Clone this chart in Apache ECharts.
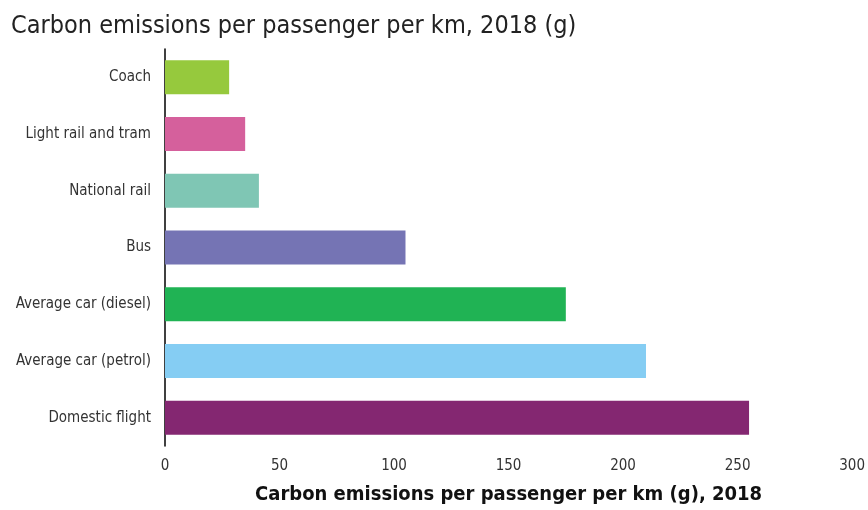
<!DOCTYPE html>
<html>
<head>
<meta charset="utf-8">
<script src="https://cdn.jsdelivr.net/npm/echarts@6/dist/echarts.min.js"></script>
<style>
html,body{margin:0;padding:0;background:#fff;}
#chart{width:868px;height:510px;}
</style>
</head>
<body>
<div id="chart"></div>
<script>
const categories = ["Coach", "Light rail and tram", "National rail", "Bus", "Average car (diesel)", "Average car (petrol)", "Domestic flight"];
const values = [28, 35, 41, 105, 175, 210, 255];
const barColors = ["#96c93d", "#d5609c", "#7fc6b4", "#7574b4", "#20b354", "#85cdf3", "#842771"];
const xTicks = [0, 50, 100, 150, 200, 250, 300];

const FONT = '"Liberation Sans Narrow", "DejaVu Sans Condensed", sans-serif';
const chart = echarts.init(document.getElementById('chart'));
chart.setOption({
  animation: false,
  title: {
    text: 'Carbon emissions per passenger per km, 2018 (g)',
    left: 6, top: 9,
    textStyle: { fontFamily: FONT, fontSize: 25, fontWeight: 'normal', color: '#222' }
  },
  grid: { left: 165, right: 14, top: 49, bottom: 62, containLabel: false },
  xAxis: {
    type: 'value', min: xTicks[0], max: xTicks[xTicks.length - 1], interval: 50,
    axisLine: { show: false }, axisTick: { show: false }, splitLine: { show: false },
    axisLabel: { fontFamily: FONT, fontSize: 15, color: '#333', margin: 13 },
    name: 'Carbon emissions per passenger per km (g), 2018',
    nameLocation: 'middle', nameGap: 39,
    nameTextStyle: { fontFamily: FONT, fontSize: 20, fontWeight: 'bold', color: '#111' }
  },
  yAxis: {
    type: 'category', data: categories, inverse: true,
    axisLine: { show: true, lineStyle: { color: '#000', width: 1.5 } },
    axisTick: { show: false },
    axisLabel: { fontFamily: FONT, fontSize: 15, color: '#333', margin: 14 }
  },
  series: [{
    type: 'bar',
    data: values.map((v, i) => ({ value: v, itemStyle: { color: barColors[i] } })),
    barWidth: '60%'
  }]
});
</script>
</body>
</html>
